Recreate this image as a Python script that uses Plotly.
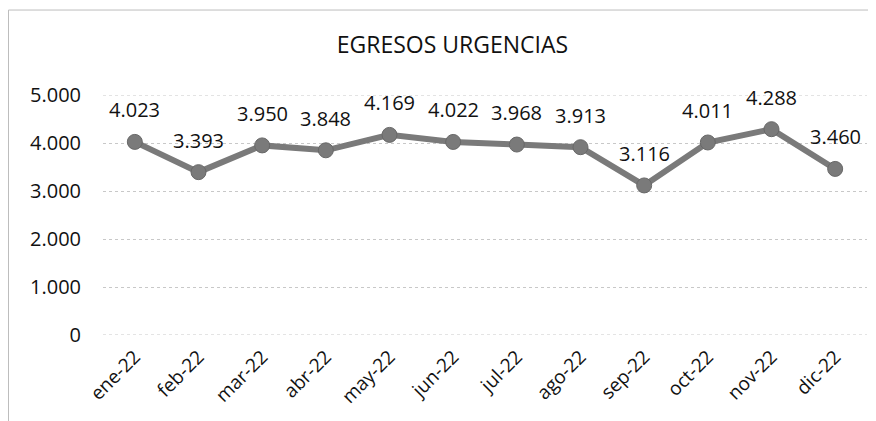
import plotly.graph_objects as go

months = ["ene-22", "feb-22", "mar-22", "abr-22", "may-22", "jun-22",
          "jul-22", "ago-22", "sep-22", "oct-22", "nov-22", "dic-22"]
egresos = [4023, 3393, 3950, 3848, 4169, 4022, 3968, 3913, 3116, 4011, 4288, 3460]
y_ticks = [0, 1000, 2000, 3000, 4000, 5000]

FONT = "Open Sans"
TXT = "#111111"
GRID = "#c8c8c8"

def fmt(v):
    return f"{v:,}".replace(",", ".")

fig = go.Figure()
fig.add_trace(go.Scatter(
    x=months, y=egresos,
    mode="lines+markers",
    line=dict(color="#7a7a7a", width=6),
    marker=dict(color="#7a7a7a", size=15, line=dict(color="#686868", width=1)),
    hoverinfo="skip",
))

annotations = [
    dict(x=m, y=v, xref="x", yref="y", text=fmt(v), showarrow=False,
         yshift=32, xanchor="center", yanchor="middle",
         font=dict(family=FONT, size=20, color=TXT))
    for m, v in zip(months, egresos)
]

fig.update_layout(
    width=868, height=413,
    margin=dict(l=95, r=9, t=87, b=86),
    paper_bgcolor="white", plot_bgcolor="white",
    separators=",.",
    showlegend=False,
    title=dict(text="EGRESOS URGENCIAS", x=0.512, xanchor="center",
               y=0.910, yanchor="middle",
               font=dict(family=FONT, size=23, color=TXT)),
    xaxis=dict(
        type="category", range=[-0.5, 11.5], tickangle=-45,
        showgrid=False, showline=False, ticks="",
        ticklabelstandoff=6,
        tickfont=dict(family=FONT, size=19, color=TXT),
    ),
    yaxis=dict(
        range=[0, 5000], tickvals=y_ticks, tickformat=",",
        showgrid=True, gridcolor=GRID, gridwidth=1, griddash="dot",
        zeroline=False, showline=False, ticks="",
        ticklabelstandoff=21,
        tickfont=dict(family=FONT, size=20, color=TXT),
    ),
    annotations=annotations,
    shapes=[
        dict(type="line", xref="paper", yref="paper",
             x0=-0.1237, x1=1.2, y0=1.354, y1=1.354,
             line=dict(color="#bdbdbd", width=1), layer="below"),
        dict(type="line", xref="paper", yref="paper",
             x0=-0.1237, x1=-0.1237, y0=-0.6, y1=1.354,
             line=dict(color="#bdbdbd", width=1), layer="below"),
        dict(type="line", xref="paper", yref="y", x0=0, x1=1,
             y0=y_ticks[0], y1=y_ticks[0],
             line=dict(color=GRID, width=1, dash="dot"), layer="below"),
        dict(type="line", xref="paper", yref="y", x0=0, x1=1,
             y0=y_ticks[-1], y1=y_ticks[-1],
             line=dict(color=GRID, width=1, dash="dot"), layer="below"),
    ],
)

fig.write_html("out.html")
